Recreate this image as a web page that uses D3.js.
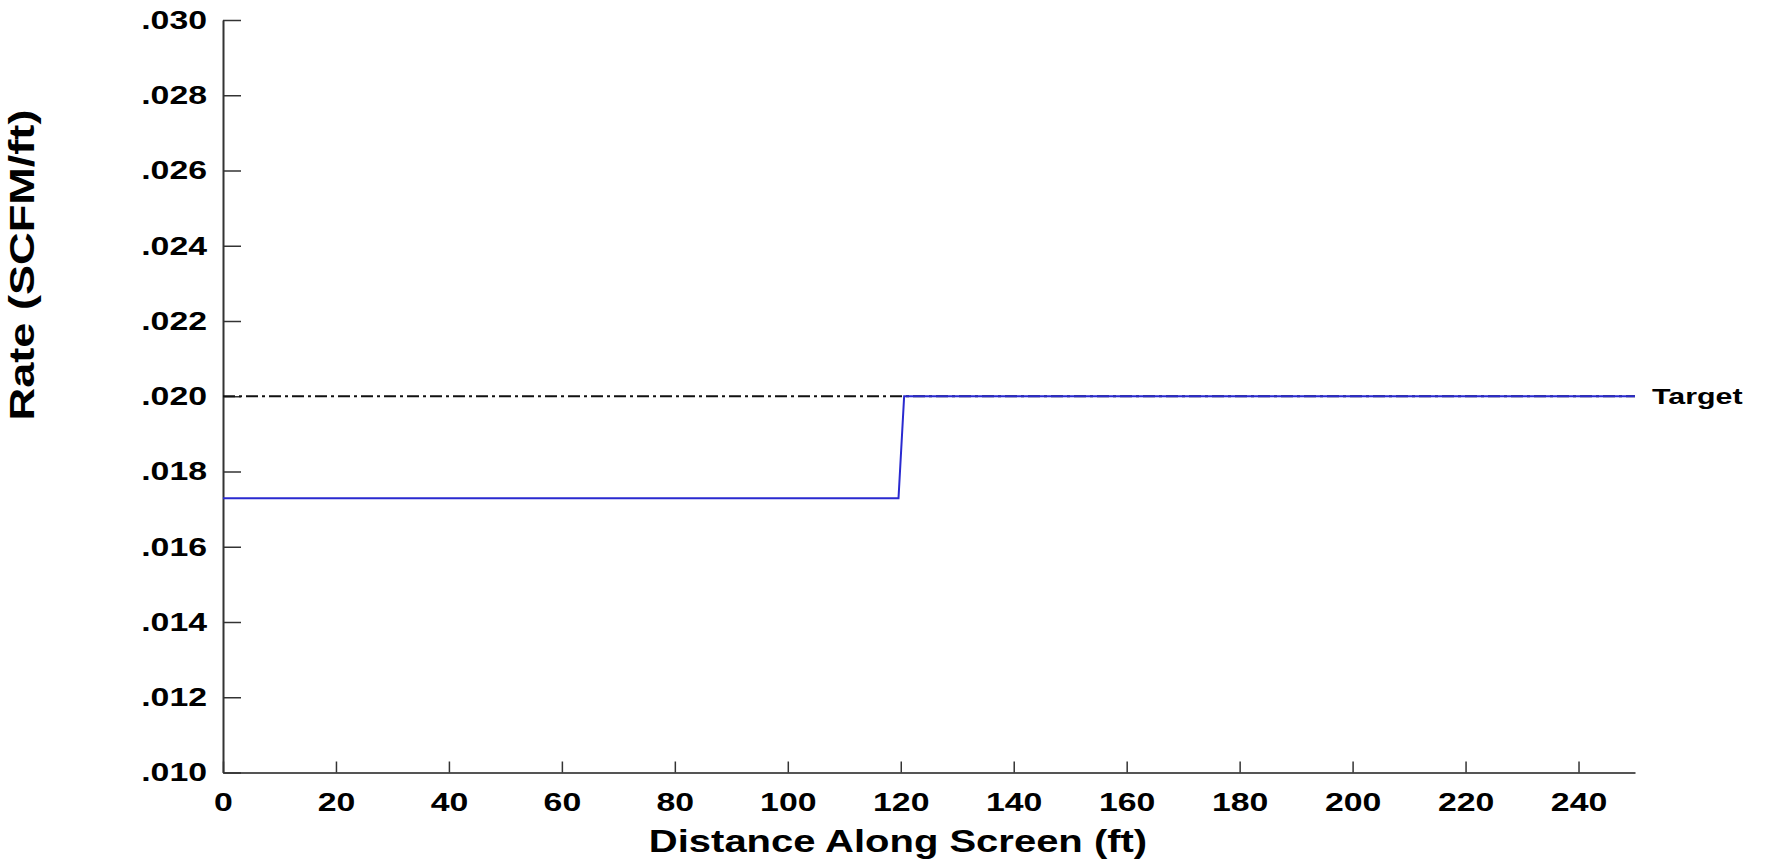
<!DOCTYPE html>
<meta charset="utf-8">
<style>
  body { margin: 0; background: #fff; }
  text { font-family: "Liberation Sans", Arial, sans-serif; font-weight: bold; fill: #000; }
</style>
<body>
<script src="https://d3js.org/d3.v7.min.js"></script>
<script>
// Data
const distance = [0, 119.6, 120.6, 250];
const rate = [0.01729, 0.01729, 0.020, 0.020];
const targetX = [0, 250];
const targetY = [0.020, 0.020];
const xTicks = [0, 20, 40, 60, 80, 100, 120, 140, 160, 180, 200, 220, 240];
const yTicks = [0.010, 0.012, 0.014, 0.016, 0.018, 0.020, 0.022, 0.024, 0.026, 0.028, 0.030];

const W = 1769, H = 860;
const margin = {left: 223, right: 1635, top: 20, bottom: 772.5};
// the original lettering is wide, so text is stretched along its run
const stretch = 1.3;

const svg = d3.select("body").append("svg")
    .attr("width", W)
    .attr("height", H);

const x = d3.scaleLinear().domain([0, 250]).range([margin.left, margin.right]);
const y = d3.scaleLinear().domain([0.010, 0.030]).range([margin.bottom, margin.top]);

// x axis, ticks pointing up into the plot
const xAxis = svg.append("g")
    .attr("transform", "translate(0," + margin.bottom + ")")
    .call(d3.axisBottom(x).tickValues(xTicks).tickSizeInner(-11).tickSizeOuter(0)
        .tickPadding(20).tickFormat(d3.format("d")));
xAxis.select(".domain").attr("stroke", "#555").attr("stroke-width", 2);
xAxis.selectAll(".tick line").attr("stroke", "#333").attr("stroke-width", 1.5);
xAxis.selectAll("text")
    .style("font-size", "26px")
    .attr("dy", "0.71em")
    .attr("transform", "scale(" + stretch + ",1)");

// y axis, ticks pointing right
const yAxis = svg.append("g")
    .attr("transform", "translate(" + margin.left + ",0)")
    .call(d3.axisLeft(y).tickValues(yTicks).tickSizeInner(-18).tickSizeOuter(0)
        .tickFormat(d => d3.format(".3f")(d).replace(/^0/, "")));
yAxis.select(".domain").attr("stroke", "#333").attr("stroke-width", 2);
yAxis.selectAll(".tick line").attr("stroke", "#333").attr("stroke-width", 1.5);
yAxis.selectAll("text")
    .style("font-size", "26px")
    .attr("x", 0)
    .attr("transform", "translate(-16,0) scale(" + stretch + ",1)");

// target line
const line = d3.line().x(d => x(d[0])).y(d => y(d[1]));
svg.append("path")
    .datum(d3.zip(targetX, targetY))
    .attr("d", line)
    .attr("fill", "none")
    .attr("stroke", "#111")
    .attr("stroke-width", 2)
    .attr("stroke-dasharray", "12,4,3,4");

// rate line
svg.append("path")
    .datum(d3.zip(distance, rate))
    .attr("d", line)
    .attr("fill", "none")
    .attr("stroke", "#2a2ad0")
    .attr("stroke-width", 2);

svg.append("text")
    .attr("transform", "translate(" + (x(250) + 17) + "," + (y(0.020) + 8) + ") scale(1.38,1)")
    .style("font-size", "22px")
    .text("Target");

// axis titles
svg.append("text")
    .attr("transform", "translate(898,852) scale(1.29,1)")
    .attr("text-anchor", "middle")
    .style("font-size", "31px")
    .text("Distance Along Screen (ft)");

svg.append("text")
    .attr("transform", "translate(34,265) rotate(-90) scale(1.29,1)")
    .attr("text-anchor", "middle")
    .style("font-size", "35px")
    .text("Rate (SCFM/ft)");
</script>
</body>
